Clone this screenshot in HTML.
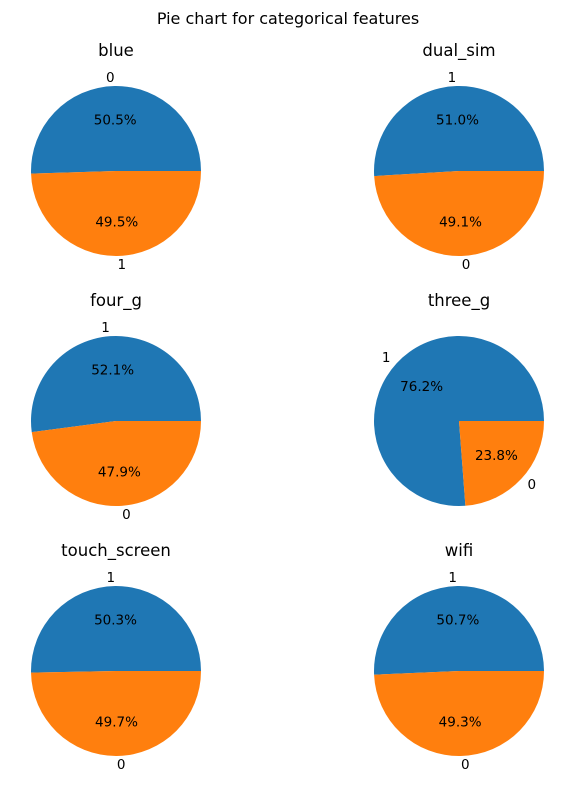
<!DOCTYPE html>
<html><head><meta charset="utf-8"><style>
body{margin:0;background:#fff;}
text{font-family:"DejaVu Sans","Liberation Sans",sans-serif;fill:#000;}
</style></head><body>
<svg id="svg" width="575" height="788" xmlns="http://www.w3.org/2000/svg">
<text x="288" y="24" text-anchor="middle" font-size="16">Pie chart for categorical features</text>
</svg>
<script>
const titles=["blue","dual_sim","four_g","three_g","touch_screen","wifi"];
const labelsA=["0","1","1","1","1","1"];
const labelsB=["1","0","0","0","0","0"];
const pctA=[50.5,51.0,52.1,76.2,50.3,50.7];
const pctB=[49.5,49.1,47.9,23.8,49.7,49.3];
const colors=["#1f77b4","#ff7f0e"];
const svg=document.getElementById('svg');
const NS="http://www.w3.org/2000/svg";
const R=85;
function mk(tag,attrs){const e=document.createElementNS(NS,tag);for(const k in attrs)e.setAttribute(k,attrs[k]);svg.appendChild(e);return e;}
function pt(cx,cy,r,deg){const a=deg*Math.PI/180;return [cx+r*Math.cos(a),cy-r*Math.sin(a)];}
titles.forEach((t,i)=>{
  const cx=i%2===0?116:459, cy=171+Math.floor(i/2)*250;
  const tt=mk('text',{x:cx,y:cy-115,'text-anchor':'middle','font-size':'16.5'});
  
  
  tt.textContent=t;
  const vals=[pctA[i],pctB[i]], labs=[labelsA[i],labelsB[i]];
  const tot=vals[0]+vals[1];
  let start=0;
  vals.forEach((v,j)=>{
    const sweep=v/tot*360, end=start+sweep;
    const p0=pt(cx,cy,R,start), p1=pt(cx,cy,R,end);
    const large=sweep>180?1:0;
    const w=mk('path',{d:`M${cx},${cy} L${p0[0]},${p0[1]} A${R},${R} 0 ${large} 0 ${p1[0]},${p1[1]} Z`,fill:colors[j]});
    
    
    const mid=(start+end)/2;
    const lp=pt(cx,cy,R*1.1,mid);
    const c=Math.cos(mid*Math.PI/180);
    const l=mk('text',{x:lp[0],y:lp[1]+4.5,'text-anchor':c>0.001?'start':(c<-0.001?'end':'middle'),'font-size':'13.5'});
    
    
    l.textContent=labs[j];
    const pp=pt(cx,cy,R*0.6,mid);
    const p=mk('text',{x:pp[0],y:pp[1]+4.5,'text-anchor':'middle','font-size':'13.5'});
    
    
    p.textContent=v.toFixed(1)+'%';
    start=end;
  });
});
</script>
</body></html>
